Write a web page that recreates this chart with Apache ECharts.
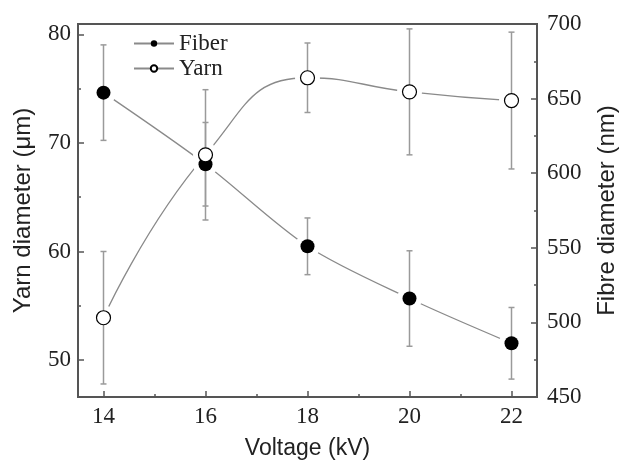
<!DOCTYPE html>
<html>
<head>
<meta charset="utf-8">
<script src="https://cdn.jsdelivr.net/npm/echarts@6/dist/echarts.min.js"></script>
<style>
html, body { margin: 0; padding: 0; background: #fff; }
#main { width: 619px; height: 461px; }
</style>
</head>
<body>
<div id="main"></div>
<script>
// values
const voltage = [14, 16, 18, 20, 22];
const fiberDiameter = [654, 606, 551, 516, 486];   // nm, right axis
const fiberError = [32, 28, 19, 32, 24];
const yarnDiameter = [53.9, 68.9, 76.0, 74.7, 73.9]; // um, left axis
const yarnError = [6.1, 6.0, 3.2, 5.8, 6.3];

const axisColor = '#555';
const serif = '"Liberation Serif", "DejaVu Serif", serif';
const sans = '"Liberation Sans", Arial, sans-serif';

const pairs = (ys) => voltage.map((v, i) => [v, ys[i]]);
const errPairs = (ys, es) => voltage.map((v, i) => [v, ys[i] - es[i], ys[i] + es[i]]);

function errorBar(params, api) {
    const x = api.value(0);
    const lo = api.coord([x, api.value(1)]);
    const hi = api.coord([x, api.value(2)]);
    const w = 3;
    const style = { stroke: '#9a9a9a', lineWidth: 1.5 };
    return {
        type: 'group',
        children: [
            { type: 'line', shape: { x1: hi[0], y1: hi[1], x2: lo[0], y2: lo[1] }, style: style },
            { type: 'line', shape: { x1: hi[0] - w, y1: hi[1], x2: hi[0] + w, y2: hi[1] }, style: style },
            { type: 'line', shape: { x1: lo[0] - w, y1: lo[1], x2: lo[0] + w, y2: lo[1] }, style: style }
        ]
    };
}

const intLabel = (v) => (Number.isInteger(v) ? String(v) : '');

const chart = echarts.init(document.getElementById('main'));

const option = {
    animation: false,
    grid: {
        left: 78, right: 82, top: 24, bottom: 64,
        show: true, borderColor: axisColor, borderWidth: 2,
        outerBoundsMode: 'none'
    },
    legend: {
        data: ['Fiber', 'Yarn'],
        orient: 'vertical',
        left: 128, top: 27,
        itemWidth: 40, itemHeight: 8, itemGap: 2,
        textStyle: { fontFamily: serif, fontSize: 23, color: '#222' }
    },
    xAxis: [{
        type: 'value', min: 13.5, max: 22.5, splitNumber: 5, position: 'bottom',
        name: 'Voltage (kV)', nameLocation: 'middle', nameGap: 40,
        nameTextStyle: { fontFamily: sans, fontSize: 23, color: '#222' },
        axisLine: { lineStyle: { color: axisColor, width: 2 } },
        axisTick: { inside: true, length: 6, lineStyle: { color: axisColor, width: 1.5 } },
        axisLabel: { formatter: intLabel, margin: 8, fontFamily: serif, fontSize: 23, color: '#222' },
        splitLine: { show: false }
    }, {
        type: 'value', min: 13.5, max: 22.5, splitNumber: 9, position: 'bottom',
        axisLine: { show: false },
        axisTick: { inside: true, length: 3, lineStyle: { color: axisColor, width: 1.5 } },
        axisLabel: { show: false },
        splitLine: { show: false }
    }],
    yAxis: [{
        type: 'value', min: 46.6, max: 80.95, splitNumber: 3, position: 'left',
        name: 'Yarn diameter (\u03bcm)', nameLocation: 'middle', nameGap: 43,
        nameTextStyle: { fontFamily: sans, fontSize: 24, color: '#222' },
        axisLine: { show: true, lineStyle: { color: axisColor, width: 2 } },
        axisTick: { inside: true, length: 6, lineStyle: { color: axisColor, width: 1.5 } },
        axisLabel: { formatter: intLabel, margin: 7, fontFamily: serif, fontSize: 23, color: '#222' },
        splitLine: { show: false }
    }, {
        type: 'value', min: 46.6, max: 80.95, splitNumber: 7, position: 'left',
        axisLine: { show: false },
        axisTick: { inside: true, length: 3, lineStyle: { color: axisColor, width: 1.5 } },
        axisLabel: { show: false },
        splitLine: { show: false }
    }, {
        type: 'value', min: 450, max: 700, interval: 50, position: 'right',
        name: 'Fibre diameter (nm)', nameLocation: 'middle', nameGap: 58,
        nameTextStyle: { fontFamily: sans, fontSize: 24, color: '#222' },
        axisLine: { show: true, lineStyle: { color: axisColor, width: 2 } },
        axisTick: { inside: true, length: 6, lineStyle: { color: axisColor, width: 1.5 } },
        minorTick: { show: true, splitNumber: 2, length: 3, lineStyle: { color: axisColor, width: 1.5 } },
        axisLabel: { margin: 10, fontFamily: serif, fontSize: 23, color: '#222' },
        splitLine: { show: false }
    }],
    series: [
        {
            name: 'Fiber', type: 'line', yAxisIndex: 2, z: 2,
            data: pairs(fiberDiameter), smooth: 0.3,
            symbol: 'circle', symbolSize: 14,
            itemStyle: { color: '#000' },
            lineStyle: { color: '#8a8a8a', width: 1.3 }
        },
        {
            name: 'Yarn', type: 'line', yAxisIndex: 0, z: 2,
            data: pairs(yarnDiameter), smooth: 0.5,
            symbol: 'circle', symbolSize: 14,
            itemStyle: { color: '#fff', borderColor: '#000', borderWidth: 1.2 },
            lineStyle: { color: '#8a8a8a', width: 1.3 }
        },
        // white halos so the lines stop short of the markers
        {
            type: 'scatter', yAxisIndex: 2, z: 3, silent: true,
            data: pairs(fiberDiameter), symbolSize: 25, itemStyle: { color: '#fff', opacity: 1 }
        },
        {
            type: 'scatter', yAxisIndex: 0, z: 3, silent: true,
            data: pairs(yarnDiameter), symbolSize: 25, itemStyle: { color: '#fff', opacity: 1 }
        },
        {
            type: 'custom', yAxisIndex: 2, z: 4, silent: true,
            renderItem: errorBar, data: errPairs(fiberDiameter, fiberError)
        },
        {
            type: 'custom', yAxisIndex: 0, z: 4, silent: true,
            renderItem: errorBar, data: errPairs(yarnDiameter, yarnError)
        },
        {
            type: 'scatter', yAxisIndex: 2, z: 5,
            data: pairs(fiberDiameter), symbolSize: 14, itemStyle: { color: '#000', opacity: 1 }
        },
        {
            type: 'scatter', yAxisIndex: 0, z: 5,
            data: pairs(yarnDiameter), symbolSize: 14,
            itemStyle: { color: '#fff', borderColor: '#000', borderWidth: 1.2, opacity: 1 }
        }
    ]
};

chart.setOption(option);
</script>
</body>
</html>
